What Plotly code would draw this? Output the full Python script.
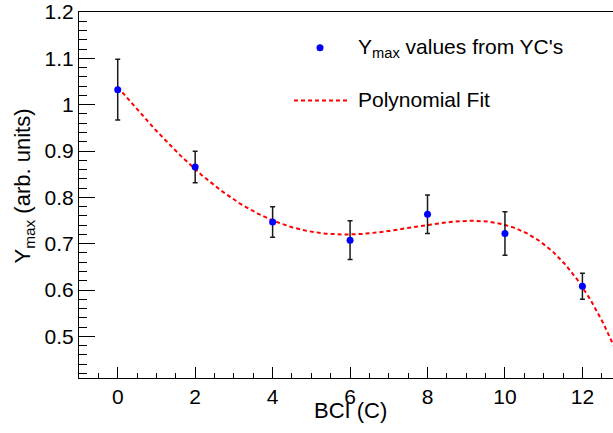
import numpy as np
import plotly.graph_objects as go

# Measured Y_max per BCI setting, with uncertainties
bci = [0, 2, 4, 6, 8, 10, 12]
ymax = [1.0325, 0.8657, 0.747, 0.7076, 0.7635, 0.7218, 0.608]
ymax_err = [0.0655, 0.034, 0.033, 0.042, 0.0415, 0.047, 0.028]

x_tick_labels = ["0", "2", "4", "6", "8", "10", "12"]
fit_degree = 4

FONT = "Liberation Sans, Arial, Helvetica, sans-serif"

# Weighted polynomial fit to the measurements
coeffs = np.polyfit(bci, ymax, fit_degree, w=1.0 / np.asarray(ymax_err))
x_fit = np.linspace(0, 13, 400)
y_fit = np.polyval(coeffs, x_fit)

W, H = 613, 433
L, R, T, B = 79, 0, 10, 55
pw, ph = W - L - R, H - T - B


def px(xp):
    return (xp - L) / pw


def py(yp):
    return (H - B - yp) / ph


fig = go.Figure()

fig.add_trace(go.Scatter(
    x=x_fit, y=y_fit, mode="lines",
    line=dict(color="#ff0000", width=2, dash="4px,3px"),
    showlegend=False, hoverinfo="skip",
))

fig.add_trace(go.Scatter(
    x=bci, y=ymax, mode="markers",
    marker=dict(color="#0000ff", size=7),
    error_y=dict(type="data", array=ymax_err, color="#1a1a1a",
                 thickness=1.5, width=2.5),
    showlegend=False,
))

# Legend drawn by hand
fig.add_shape(type="circle", xref="paper", yref="paper",
              xsizemode="pixel", ysizemode="pixel",
              xanchor=px(320), yanchor=py(46),
              x0=-3.5, x1=3.5, y0=-3.5, y1=3.5,
              fillcolor="#0000ff", line=dict(width=0))
fig.add_shape(type="line", xref="paper", yref="paper",
              x0=px(294), x1=px(347), y0=py(99), y1=py(99),
              line=dict(color="#ff0000", width=2, dash="4px,3px"))
fig.add_annotation(text="Y<sub>max</sub> values from YC's",
                   xref="paper", yref="paper", x=px(356), y=py(46),
                   xanchor="left", yanchor="middle", showarrow=False,
                   font=dict(family=FONT, size=21, color="black"))
fig.add_annotation(text="Polynomial Fit",
                   xref="paper", yref="paper", x=px(356), y=py(98),
                   xanchor="left", yanchor="middle", showarrow=False,
                   font=dict(family=FONT, size=21, color="black"))

# Axis titles
fig.add_annotation(text="Y<sub>max</sub> (arb. units)", textangle=-90,
                   xref="paper", yref="paper", x=px(24), y=py(185.5),
                   xanchor="center", yanchor="middle", showarrow=False,
                   font=dict(family=FONT, size=22, color="black"))
fig.add_annotation(text="BCI (C)",
                   xref="paper", yref="paper", x=px(350), y=py(410.5),
                   xanchor="center", yanchor="middle", showarrow=False,
                   font=dict(family=FONT, size=22, color="black"))

fig.update_xaxes(
    range=[-1, 12.79], showgrid=False, zeroline=False,
    showline=True, linecolor="black", linewidth=1, mirror=True,
    ticks="inside", ticklen=11, tickwidth=1, tickcolor="black",
    tickmode="array", tickvals=bci, ticktext=x_tick_labels,
    minor=dict(ticks="inside", ticklen=5.5, tickwidth=1, tickcolor="black",
               dtick=0.5, tick0=0, showgrid=False),
    tickfont=dict(family=FONT, size=21, color="black"),
    ticklabeloverflow="allow",
)
fig.update_yaxes(
    range=[0.41, 1.2002], showgrid=False, zeroline=False,
    showline=True, linecolor="black", linewidth=1,
    ticks="inside", ticklen=16, tickwidth=1, tickcolor="black",
    dtick=0.1, tick0=0.5,
    minor=dict(ticks="inside", ticklen=8, tickwidth=1, tickcolor="black",
               dtick=0.02, tick0=0.4, showgrid=False),
    tickfont=dict(family=FONT, size=21, color="black"),
    ticklabeloverflow="allow",
)

fig.update_layout(
    width=W, height=H,
    margin=dict(l=L, r=R, t=T, b=B),
    paper_bgcolor="white", plot_bgcolor="white",
    showlegend=False,
)

fig.write_html("out.html")
